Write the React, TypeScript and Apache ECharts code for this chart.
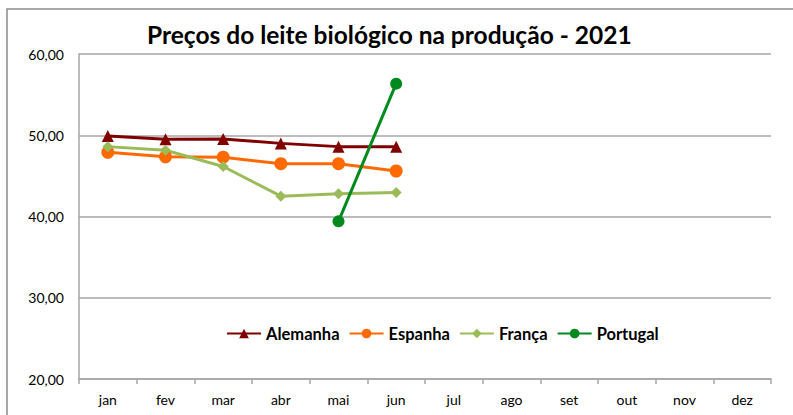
import React, { useEffect, useRef } from "react";
import * as echarts from "echarts";

const months = ["jan", "fev", "mar", "abr", "mai", "jun", "jul", "ago", "set", "out", "nov", "dez"];
const alemanha = [49.9, 49.5, 49.55, 49.0, 48.6, 48.6, null, null, null, null, null, null];
const espanha = [47.9, 47.35, 47.3, 46.5, 46.5, 45.6, null, null, null, null, null, null];
const franca = [48.6, 48.15, 46.15, 42.5, 42.8, 42.95, null, null, null, null, null, null];
const portugal = [null, null, null, null, 39.4, 56.35, null, null, null, null, null, null];

const FONT = "Lato, 'Open Sans', sans-serif";

export default function App() {
  const ref = useRef<HTMLDivElement>(null);
  useEffect(() => {
    document.body.style.margin = "0";
    const chart = echarts.init(ref.current!, null, { renderer: "svg" });
    const mk = (name: string, data: any[], color: string, symbol: string, size: number) => ({
      name,
      type: "line",
      data,
      symbol,
      symbolSize: size,
      connectNulls: false,
      lineStyle: { color, width: 3 },
      itemStyle: { color },
      emphasis: { disabled: true },
    });
    chart.setOption({
      animation: false,
      backgroundColor: "#ffffff",
      textStyle: { fontFamily: FONT },
      title: {
        text: "Preços do leite biológico na produção - 2021",
        left: 142,
        top: 17,
        textStyle: { fontFamily: FONT, fontSize: 24.5, fontWeight: "bold", color: "#000" },
      },
      graphic: [
        {
          type: "rect",
          shape: { x: 7, y: 9, width: 800, height: 420 },
          style: { fill: "none", stroke: "#8c8c8c", lineWidth: 1.5 },
          silent: true,
        },
      ],
      legend: {
        left: 226,
        top: 325,
        padding: 0,
        itemWidth: 34,
        itemHeight: 12,
        itemGap: 9,
        textStyle: { fontFamily: FONT, fontSize: 16.5, fontWeight: "bold", color: "#000" },
        data: ["Alemanha", "Espanha", "França", "Portugal"],
      },
      grid: { left: 79, top: 54, right: 22, bottom: 36 },
      xAxis: {
        type: "category",
        data: months,
        boundaryGap: true,
        axisLine: { lineStyle: { color: "#a6a6a6", width: 1.5 } },
        axisTick: { show: true, length: 5, lineStyle: { color: "#a6a6a6", width: 1.5 } },
        axisLabel: { fontFamily: FONT, fontSize: 14, color: "#000", margin: 13 },
      },
      yAxis: {
        type: "value",
        min: 20,
        max: 60,
        interval: 10,
        axisLine: { show: true, lineStyle: { color: "#a6a6a6", width: 1.5 } },
        axisTick: { show: false },
        splitLine: { lineStyle: { color: "#a6a6a6", width: 1.5 } },
        axisLabel: {
          fontFamily: FONT,
          fontSize: 14,
          color: "#000",
          margin: 15,
          formatter: (v: number) => v.toFixed(2).replace(".", ","),
        },
      },
      series: [
        mk("Alemanha", alemanha, "#800000", "triangle", 12),
        mk("Espanha", espanha, "#ff6a00", "circle", 13),
        mk("França", franca, "#9bbb59", "diamond", 11),
        mk("Portugal", portugal, "#008a1e", "circle", 12),
      ],
    });
    return () => chart.dispose();
  }, []);
  return <div ref={ref} style={{ width: 793, height: 415 }} />;
}
